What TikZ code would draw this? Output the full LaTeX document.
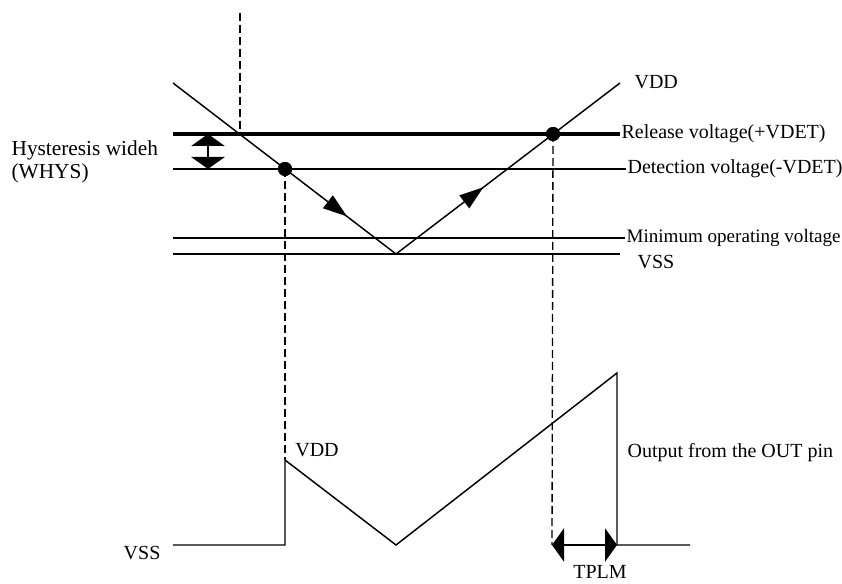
\documentclass[tikz,border=0pt]{standalone}
\usepackage{fontspec}
\setmainfont{Liberation Serif}
\usetikzlibrary{arrows.meta,decorations.markings,positioning}

\begin{document}
\begin{tikzpicture}[x=0.75pt, y=-0.75pt,
    every node/.style={font=\fontsize{15}{18}\selectfont, inner sep=1pt},
    sig/.style={line width=1.1pt},
    relline/.style={line width=2.3pt},
    dashln/.style={line width=1pt, dash pattern=on 6pt off 3pt},
    dot/.style={circle, fill, inner sep=0pt, minimum size=10.5pt},
    dimarrow/.style={line width=1.2pt, {Triangle[width=25pt,length=9pt]}-{Triangle[width=25pt,length=9pt]}},
    midarrow/.style={decoration={markings, mark=at position #1 with {\arrow{Triangle[width=12pt,length=18pt]}}}, postaction={decorate}}]
    \useasboundingbox (0,0) rectangle (842,584);

    % upper graph: supply voltage
    \coordinate (vL) at (173,83);
    \coordinate (vB) at (396,254);
    \coordinate (vR) at (620,83);
    \node[anchor=west] (vddT) at (633,82) {VDD};

    \coordinate (relL) at (173,134);
    \coordinate (detL) at (173,169);
    \coordinate (minL) at (173,238);
    \coordinate (vssL) at (173,254);
    \coordinate (vssR) at (620,254);
    \node[anchor=west] (rel) at (620,134) {Release voltage(+VDET)};
    \node[anchor=west] (det) at (626,169) {Detection voltage(-VDET)};
    \node[anchor=west, font=\fontsize{14.3}{17}\selectfont] (minop) at (625,238) {Minimum operating voltage};
    \node[anchor=west] (vssT) at (636,262) {VSS};

    \draw[relline] (relL) -- (rel.west);
    \draw[sig] (detL) -- (det.west);
    \draw[sig] (minL) -- (minop.west);
    \draw[sig] (vssL) -- (vssR);

    \draw[sig, midarrow=0.78] (vL) -- (vB);
    \draw[sig, midarrow=0.39] (vB) -- (vR);

    % hysteresis width
    \node[anchor=west, align=left, font=\fontsize{16}{17}\selectfont] (hys) at (10,162) {Hysteresis wideh\\(WHYS)};
    \coordinate (hysT) at (208,134);
    \coordinate (hysB) at (208,169);
    \draw[dimarrow] (hysT) -- (hysB);

    % lower graph: output from the OUT pin
    \coordinate (b0) at (173,545);
    \coordinate (b1) at (285,545);
    \coordinate (b2) at (285,460);
    \coordinate (b3) at (396,545);
    \coordinate (b4) at (617,373);
    \coordinate (b5) at (617,545);
    \coordinate (b6) at (690,545);
    \coordinate (tA) at (552,545);
    \draw[sig] (b0) -- (b1) -- (b2) -- (b3) -- (b4) -- (b5) -- (b6);
    \node (vddB) at (317,450) {VDD};
    \node[anchor=east] (vssB) at (162,553) {VSS};
    \node[anchor=west] (out) at (626,453) {Output from the OUT pin};
    \draw[dimarrow] (tA) -- (b5);
    \node (tplm) at (600,572) {TPLM};

    % dashed guides and crossing points
    \coordinate (dTop) at (240,13);
    \coordinate (dCross) at (240,134);
    \node[dot] (dDet) at (285,169) {};
    \node[dot] (dRel) at (553,134) {};
    \draw[dashln] (dTop) -- (dCross);
    \draw[dashln] (dDet.center) -- (b2);
    \draw[dashln] (dRel.center) -- (tA);
    \node[dot] at (dDet) {};
    \node[dot] at (dRel) {};
\end{tikzpicture}
\end{document}
